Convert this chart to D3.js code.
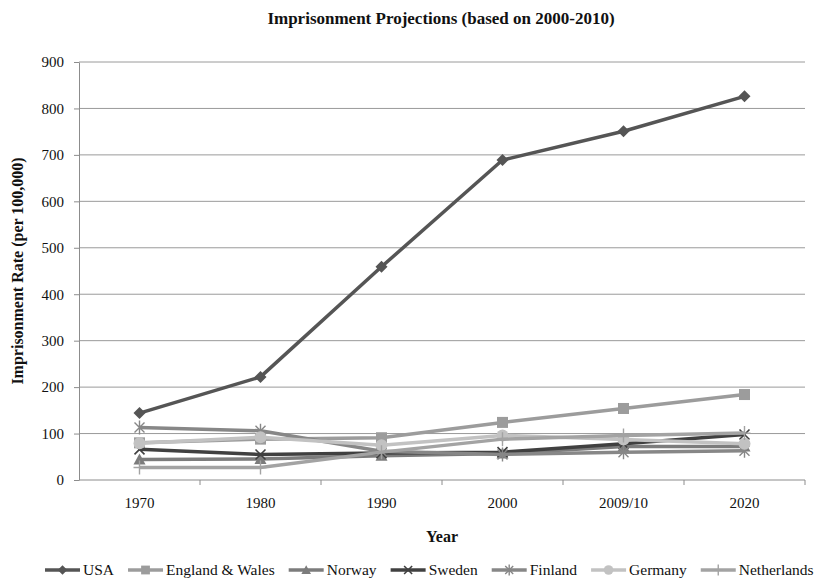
<!DOCTYPE html>
<html>
<head>
<meta charset="utf-8">
<script src="https://cdn.jsdelivr.net/npm/d3@7"></script>
<style>
  html, body { margin: 0; padding: 0; background: #fff; }
  svg { display: block; }
  text { font-family: "Liberation Serif", "Times New Roman", serif; }
</style>
</head>
<body>
<svg id="chart" width="819" height="581"></svg>
<script>
// Imprisonment rates per 100,000, with projections to 2020
const years = ["1970", "1980", "1990", "2000", "2009/10", "2020"];
const yTicks = [0, 100, 200, 300, 400, 500, 600, 700, 800, 900];

const usa         = [144, 222, 459, 689, 751, 826];
const england     = [80, 88, 91, 124, 154, 184];
const norway      = [44, 45, 52, 57, 72, 72];
const sweden      = [66, 55, 58, 60, 78, 98];
const finland     = [113, 106, 62, 55, 60, 63];
const germany     = [79, 92, 75, 96, 87, 78];
const netherlands = [27, 27, 60, 88, 96, 101];

const seriesNames = ["USA", "England & Wales", "Norway", "Sweden", "Finland", "Germany", "Netherlands"];
const seriesValues = [usa, england, norway, sweden, finland, germany, netherlands];
const seriesColors = ["#555555", "#9c9c9c", "#7c7c7c", "#404040", "#878787", "#c2c2c2", "#a3a3a3"];
const seriesMarkers = ["diamond", "square", "triangle", "x", "asterisk", "circle", "plus"];

const svg = d3.select("#chart");
const margin = { left: 79, right: 805, top: 62, bottom: 480 };

const x = d3.scaleBand().domain(years).range([margin.left, margin.right]);
const y = d3.scaleLinear().domain([0, 900]).range([margin.bottom, margin.top]);
const cx = d => x(d) + x.bandwidth() / 2;

// Title
svg.append("text")
  .attr("x", 441).attr("y", 24)
  .attr("text-anchor", "middle")
  .attr("font-weight", "bold").attr("font-size", 17)
  .attr("fill", "#111")
  .text("Imprisonment Projections (based on 2000-2010)");

// Horizontal gridlines
svg.append("g")
  .selectAll("line")
  .data(yTicks.filter(t => t > 0))
  .join("line")
  .attr("x1", margin.left).attr("x2", margin.right)
  .attr("y1", d => y(d)).attr("y2", d => y(d))
  .attr("stroke", "#9a9a9a").attr("stroke-width", 1);

// Y axis
const yAxis = svg.append("g")
  .attr("transform", `translate(${margin.left},0)`)
  .call(d3.axisLeft(y).tickValues(yTicks).tickSize(5).tickPadding(10).tickSizeOuter(0));
yAxis.select(".domain").attr("stroke", "#8c8c8c");
yAxis.selectAll(".tick line").attr("stroke", "#8c8c8c");
yAxis.selectAll(".tick text")
  .attr("font-family", "Liberation Serif, serif")
  .attr("font-size", 15).attr("fill", "#111");

// X axis with ticks between categories
const xAxis = svg.append("g")
  .attr("transform", `translate(0,${margin.bottom})`)
  .call(d3.axisBottom(x).tickSize(0).tickPadding(17));
xAxis.select(".domain").attr("stroke", "#8c8c8c").attr("d", `M${margin.left},0H${margin.right}`);
xAxis.selectAll(".tick text")
  .attr("font-family", "Liberation Serif, serif")
  .attr("font-size", 15).attr("fill", "#111");
xAxis.selectAll(".boundary")
  .data(years.slice(1).concat(["end"]))
  .join("line")
  .attr("class", "boundary")
  .attr("x1", (d, i) => margin.left + x.step() * (i + 1))
  .attr("x2", (d, i) => margin.left + x.step() * (i + 1))
  .attr("y1", 0).attr("y2", 5)
  .attr("stroke", "#8c8c8c");

// Axis titles
svg.append("text")
  .attr("transform", "translate(23,271) rotate(-90)")
  .attr("text-anchor", "middle")
  .attr("font-weight", "bold").attr("font-size", 16)
  .attr("fill", "#111")
  .text("Imprisonment Rate (per 100,000)");

svg.append("text")
  .attr("x", 442).attr("y", 542)
  .attr("text-anchor", "middle")
  .attr("font-weight", "bold").attr("font-size", 16)
  .attr("fill", "#111")
  .text("Year");

// Marker drawing
function drawMarker(g, type, color, px, py, s) {
  const k = s || 1;
  switch (type) {
    case "diamond":
      g.append("path")
        .attr("d", `M${px},${py - 6 * k}L${px + 6 * k},${py}L${px},${py + 6 * k}L${px - 6 * k},${py}Z`)
        .attr("fill", color);
      break;
    case "square":
      g.append("rect")
        .attr("x", px - 5.5 * k).attr("y", py - 5.5 * k)
        .attr("width", 11 * k).attr("height", 11 * k)
        .attr("fill", color);
      break;
    case "triangle":
      g.append("path")
        .attr("d", `M${px},${py - 6 * k}L${px + 6 * k},${py + 5 * k}L${px - 6 * k},${py + 5 * k}Z`)
        .attr("fill", color);
      break;
    case "circle":
      g.append("circle")
        .attr("cx", px).attr("cy", py).attr("r", 6 * k)
        .attr("fill", color);
      break;
    case "x":
      g.append("path")
        .attr("d", `M${px - 5 * k},${py - 5 * k}L${px + 5 * k},${py + 5 * k}M${px + 5 * k},${py - 5 * k}L${px - 5 * k},${py + 5 * k}`)
        .attr("stroke", color).attr("stroke-width", 1.6).attr("fill", "none");
      break;
    case "asterisk":
      g.append("path")
        .attr("d", `M${px - 5 * k},${py - 5 * k}L${px + 5 * k},${py + 5 * k}M${px + 5 * k},${py - 5 * k}L${px - 5 * k},${py + 5 * k}M${px},${py - 7 * k}L${px},${py + 7 * k}`)
        .attr("stroke", color).attr("stroke-width", 1.4).attr("fill", "none");
      break;
    case "plus":
      g.append("path")
        .attr("d", `M${px},${py - 7 * k}L${px},${py + 7 * k}M${px - 6 * k},${py}L${px + 6 * k},${py}`)
        .attr("stroke", color).attr("stroke-width", 1.4).attr("fill", "none");
      break;
  }
}

// Series lines and markers
const line = d3.line().x((d, i) => cx(years[i])).y(d => y(d));
seriesValues.forEach((vals, si) => {
  const g = svg.append("g");
  g.append("path")
    .datum(vals)
    .attr("d", line)
    .attr("fill", "none")
    .attr("stroke", seriesColors[si])
    .attr("stroke-width", 3.5)
    .attr("stroke-linejoin", "round");
  vals.forEach((v, i) => drawMarker(g, seriesMarkers[si], seriesColors[si], cx(years[i]), y(v), 1));
});

// Legend
const legend = svg.append("g");
let lx = 45;
const ly = 570;
seriesNames.forEach((name, si) => {
  const item = legend.append("g");
  item.append("line")
    .attr("x1", lx).attr("x2", lx + 35)
    .attr("y1", ly).attr("y2", ly)
    .attr("stroke", seriesColors[si]).attr("stroke-width", 3.5);
  drawMarker(item, seriesMarkers[si], seriesColors[si], lx + 17.5, ly, 0.8);
  const t = item.append("text")
    .attr("x", lx + 38).attr("y", ly + 5)
    .attr("font-size", 15.5).attr("fill", "#111")
    .text(name);
  lx += 38 + t.node().getComputedTextLength() + 14;
});
</script>
</body>
</html>
